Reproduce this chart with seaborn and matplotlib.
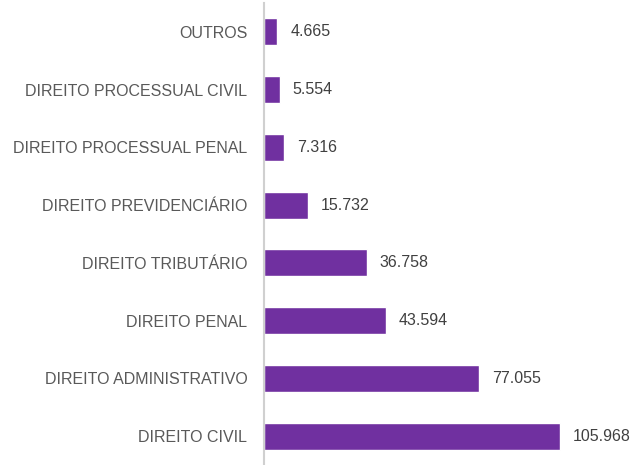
import matplotlib
matplotlib.use('Agg')
import matplotlib.pyplot as plt
import pandas as pd
import seaborn as sns

categories = ['OUTROS', 'DIREITO PROCESSUAL CIVIL', 'DIREITO PROCESSUAL PENAL',
              'DIREITO PREVIDENCIÁRIO', 'DIREITO TRIBUTÁRIO', 'DIREITO PENAL',
              'DIREITO ADMINISTRATIVO', 'DIREITO CIVIL']
values = [4665, 5554, 7316, 15732, 36758, 43594, 77055, 105968]

df = pd.DataFrame({'area': categories, 'total': values})

sns.set_theme(style="white")
plt.rcParams['font.family'] = ['Liberation Sans', 'DejaVu Sans']

fig = plt.figure(figsize=(6.33, 4.65), dpi=100)
ax = fig.add_axes([264 / 633, 0.0, 369 / 633, 462 / 465])

sns.barplot(data=df, x='total', y='area', color='#7030A0', width=0.47,
            saturation=1, ax=ax, orient='h')

ax.set_xlim(0, 132100)
ax.set_ylim(7.5, -0.5)
ax.set_xlabel('')
ax.set_ylabel('')
ax.set_xticks([])
for s in ['top', 'right', 'bottom']:
    ax.spines[s].set_visible(False)
ax.spines['left'].set_color('#d0d0d0')
ax.spines['left'].set_linewidth(1.5)
ax.tick_params(axis='y', length=0, pad=12, labelsize=11.5, labelcolor='#595959')

# rótulos de valor com separador de milhar em ponto
for i, v in enumerate(values):
    ax.text(v + 4700, i, f"{v:,}".replace(',', '.'), va='center', ha='left',
            fontsize=11.5, color='#404040')

fig.savefig('out.png', dpi=100)
